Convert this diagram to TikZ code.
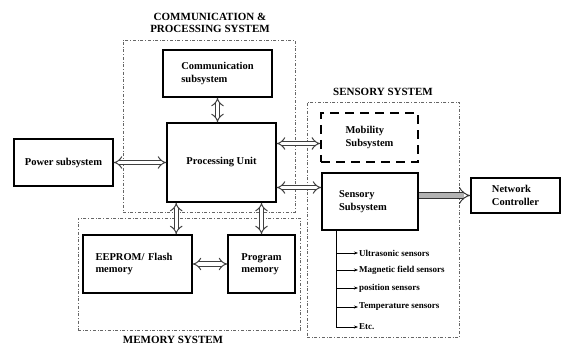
\documentclass[tikz,border=0pt]{standalone}
\usepackage{fontspec}
\setmainfont{Liberation Serif}
\usetikzlibrary{arrows.meta,calc}

\tikzset{
    block/.style={draw, line width=1.6pt, inner sep=0pt, font=\fontsize{10.5}{12.5}\selectfont\bfseries},
    system/.style={draw=gray!80!black, dash dot, line width=0.6pt, inner sep=0pt},
    systitle/.style={font=\fontsize{11}{12}\selectfont\bfseries, align=center},
    dblarrow/.style={draw=black!75, double, double distance=3.4pt, line width=1pt, {Implies[scale=1.3]}-{Implies[scale=1.3]}},
    sensor/.style={anchor=west, inner sep=1pt, font=\fontsize{9}{10}\selectfont\bfseries}
}

\begin{document}
\begin{tikzpicture}[x=1pt, y=-1pt]
    \useasboundingbox (0, 0) rectangle (561, 347);

    % System frames
    \node[system, minimum width=172pt, minimum height=172pt] (csys) at (209, 126) {};
    \node[system, minimum width=152pt, minimum height=235pt] (ssys) at (383, 219.5) {};
    \node[system, minimum width=222pt, minimum height=112pt] (msys) at (189, 274) {};

    \node[systitle] (ctitle) at (210, 23) {COMMUNICATION \&\\PROCESSING SYSTEM};
    \node[systitle] (stitle) at (383, 92) {SENSORY SYSTEM};
    \node[systitle] (mtitle) at (173, 340) {MEMORY SYSTEM};

    % Blocks
    \node[block, minimum width=109pt, minimum height=47pt, align=left] (commsub) at (217.5, 73.5) {Communication\\subsystem};
    \node[block, minimum width=109pt, minimum height=79pt] (pu) at (221.5, 162.5) {Processing Unit};
    \node[block, minimum width=99pt, minimum height=47pt] (power) at (63.5, 162.5) {Power subsystem};
    \node[block, dash pattern=on 9pt off 6pt, line width=1.8pt, minimum width=97pt, minimum height=49pt, align=left] (mobility) at (369.5, 137.5) {Mobility\\Subsystem};
    \node[block, minimum width=96pt, minimum height=57pt, align=left, text width=62pt] (sensory) at (370, 201.5) {Sensory\\Subsystem};
    \node[block, minimum width=89pt, minimum height=35pt, align=left] (netctl) at (515.5, 195.5) {Network\\Controller};
    \node[block, minimum width=109pt, minimum height=58pt, align=left, text width=84pt] (eeprom) at (137.5, 264) {EEPROM/ Flash\\memory};
    \node[block, minimum width=67pt, minimum height=58pt, align=left] (progmem) at (261.5, 264) {Program\\memory};

    % Links to processing unit
    \draw[dblarrow] (commsub.south) -- (commsub.south |- pu.north);
    \draw[dblarrow] (power.east) -- (pu.west);
    \coordinate (mobport) at ($(mobility.west) + (0, 6)$);
    \draw[dblarrow] (mobport -| pu.east) -- (mobport);
    \coordinate (senport) at ($(sensory.west) + (0, -14)$);
    \draw[dblarrow] (senport -| pu.east) -- (senport);
    \coordinate (eeport) at ($(pu.south west) + (10, 0)$);
    \draw[dblarrow] (eeport) -- (eeport |- eeprom.north);
    \draw[dblarrow] (progmem.north |- pu.south) -- (progmem.north);
    \draw[dblarrow] (eeprom.east) -- (progmem.west);

    % Output to network controller
    \draw[draw=black!80, double=gray!60, double distance=5pt, line width=1pt, -{Implies[scale=1.2]}] (sensory.east |- netctl.west) -- (netctl.west);

    % Sensor list
    \coordinate (trunk) at ($(sensory.south west) + (15, 0)$);
    \node[sensor] (s1) at (358, 253) {Ultrasonic sensors};
    \node[sensor] (s2) at (358, 270) {Magnetic field sensors};
    \node[sensor] (s3) at (358, 288) {position sensors};
    \node[sensor] (s4) at (358, 307) {Temperature sensors};
    \node[sensor] (s5) at (358, 327) {Etc.};
    \draw[line width=0.7pt] (trunk) -- (trunk |- s5.west);
    \draw[-{Stealth[length=4pt]}, line width=0.7pt] (trunk |- s1.west) -- (s1.west);
    \draw[-{Stealth[length=4pt]}, line width=0.7pt] (trunk |- s2.west) -- (s2.west);
    \draw[-{Stealth[length=4pt]}, line width=0.7pt] (trunk |- s3.west) -- (s3.west);
    \draw[-{Stealth[length=4pt]}, line width=0.7pt] (trunk |- s4.west) -- (s4.west);
    \draw[-{Stealth[length=4pt]}, line width=0.7pt] (trunk |- s5.west) -- (s5.west);
\end{tikzpicture}
\end{document}
